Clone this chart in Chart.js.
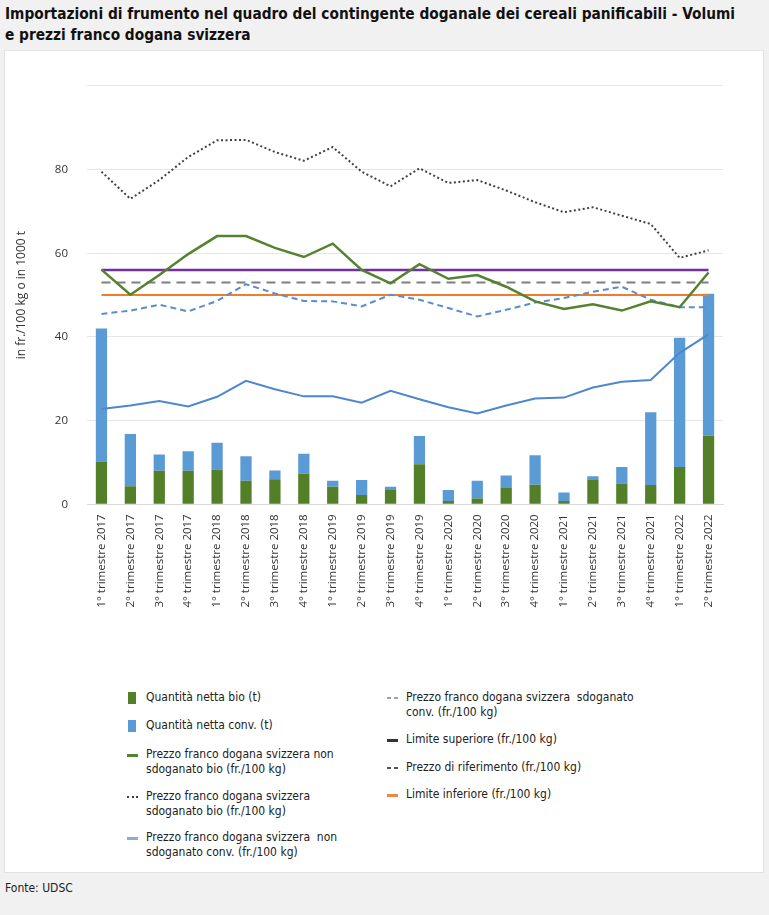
<!DOCTYPE html>
<html>
<head>
<meta charset="utf-8">
<script src="https://cdn.jsdelivr.net/npm/chart.js@4.4.1/dist/chart.umd.min.js"></script>
<style>
  body { margin: 0; background: #f1f1f1; width: 769px; height: 915px; position: relative; overflow: hidden;
         font-family: "DejaVu Sans Condensed", "Open Sans", sans-serif; }
  #title { position: absolute; left: 5px; top: 4px; width: 764px; font-size: 15.3px; font-weight: bold;
           line-height: 21px; color: #111; }
  #panel { position: absolute; left: 4px; top: 50px; width: 758px; height: 821px; background: #fff;
           border: 1px solid #e2e2e2; }
  #chartBox { position: absolute; left: 0; top: 60px; width: 769px; height: 580px; }
  .leg { position: absolute; font-size: 12px; line-height: 15px; color: #222; }
  .mk { position: absolute; }
  #source { position: absolute; left: 5px; top: 881px; font-size: 12px; color: #222; }
</style>
</head>
<body>
<div id="title">Importazioni di frumento nel quadro del contingente doganale dei cereali panificabili - Volumi<br>e prezzi franco dogana svizzera</div>
<div id="panel"></div>
<div id="chartBox"><canvas id="chart"></canvas></div>
<div id="legend"></div>
<div id="source">Fonte: UDSC</div>
<script>
const labels = [
  "1° trimestre 2017", "2° trimestre 2017", "3° trimestre 2017", "4° trimestre 2017",
  "1° trimestre 2018", "2° trimestre 2018", "3° trimestre 2018", "4° trimestre 2018",
  "1° trimestre 2019", "2° trimestre 2019", "3° trimestre 2019", "4° trimestre 2019",
  "1° trimestre 2020", "2° trimestre 2020", "3° trimestre 2020", "4° trimestre 2020",
  "1° trimestre 2021", "2° trimestre 2021", "3° trimestre 2021", "4° trimestre 2021",
  "1° trimestre 2022", "2° trimestre 2022"
];

// quantities (1000 t)
const qtyBio = [10.2, 4.3, 8.0, 8.0, 8.3, 5.6, 6.0, 7.3, 4.2, 2.2, 3.4, 9.6,
                0.8, 1.4, 3.9, 4.7, 0.8, 5.8, 5.0, 4.6, 8.9, 16.4];
const qtyConv = [31.8, 12.5, 3.9, 4.7, 6.4, 5.9, 2.1, 4.8, 1.4, 3.6, 0.8, 6.7,
                 2.6, 4.2, 3.0, 7.0, 2.0, 0.9, 3.9, 17.4, 30.9, 33.9];

// prices (fr./100 kg)
const priceBioNonSdog = [56.1, 50.1, 54.8, 59.8, 64.1, 64.1, 61.3, 59.1, 62.3, 56.0, 52.8, 57.4,
                         53.9, 54.8, 52.0, 48.5, 46.7, 47.8, 46.3, 48.5, 47.1, 55.4];
const priceBioSdog = [79.5, 73.0, 77.5, 83.0, 87.0, 87.1, 84.2, 82.1, 85.4, 79.5, 76.0, 80.3,
                      76.8, 77.5, 75.0, 72.2, 69.8, 71.0, 69.0, 67.0, 58.9, 60.7];
const priceConvNonSdog = [22.8, 23.6, 24.7, 23.4, 25.7, 29.5, 27.5, 25.8, 25.8, 24.3, 27.1, 25.1,
                          23.2, 21.7, 23.6, 25.3, 25.5, 27.9, 29.3, 29.7, 36.2, 40.6];
const priceConvSdog = [45.5, 46.3, 47.7, 46.1, 48.6, 52.6, 50.4, 48.6, 48.5, 47.3, 50.1, 48.9,
                       46.9, 44.9, 46.5, 48.2, 49.3, 50.8, 52.0, 48.9, 47.1, 47.1];
const limitUpper = [56, 56, 56, 56, 56, 56, 56, 56, 56, 56, 56, 56, 56, 56, 56, 56, 56, 56, 56, 56, 56, 56];
const refPrice = [53, 53, 53, 53, 53, 53, 53, 53, 53, 53, 53, 53, 53, 53, 53, 53, 53, 53, 53, 53, 53, 53];
const limitLower = [50, 50, 50, 50, 50, 50, 50, 50, 50, 50, 50, 50, 50, 50, 50, 50, 50, 50, 50, 50, 50, 50];

const yTicks = [0, 20, 40, 60, 80];

const tickFont = { family: "Open Sans", size: 11.5 };

function line(label, data, color, width, dash, stack) {
  return {
    type: "line", label, data, borderColor: color, backgroundColor: color,
    borderWidth: width, borderDash: dash, pointRadius: 0, tension: 0,
    fill: false, stack, order: 0
  };
}

new Chart(document.getElementById("chart"), {
  data: {
    labels,
    datasets: [
      { type: "bar", label: "Quantità netta bio (t)", data: qtyBio, backgroundColor: "#527f28",
        stack: "q", order: 1, barPercentage: 0.39, categoryPercentage: 1 },
      { type: "bar", label: "Quantità netta conv. (t)", data: qtyConv, backgroundColor: "#5b9bd5",
        stack: "q", order: 1, barPercentage: 0.39, categoryPercentage: 1 },
      line("Prezzo franco dogana svizzera non sdoganato bio (fr./100 kg)", priceBioNonSdog, "#548230", 2.5, [], "l1"),
      line("Prezzo franco dogana svizzera sdoganato bio (fr./100 kg)", priceBioSdog, "#404040", 2, [2, 2.5], "l2"),
      line("Prezzo franco dogana svizzera non sdoganato conv. (fr./100 kg)", priceConvNonSdog, "#4f87cf", 2, [], "l3"),
      line("Prezzo franco dogana svizzera sdoganato conv. (fr./100 kg)", priceConvSdog, "#5a8ccf", 2, [6, 4], "l4"),
      line("Limite superiore (fr./100 kg)", limitUpper, "#7030a0", 2.5, [], "l5"),
      line("Prezzo di riferimento (fr./100 kg)", refPrice, "#7f7f7f", 2, [9, 6], "l6"),
      line("Limite inferiore (fr./100 kg)", limitLower, "#f07d2c", 2, [], "l7")
    ]
  },
  options: {
    responsive: true,
    maintainAspectRatio: false,
    animation: false,
    layout: { padding: { top: 23, right: 46, left: 0, bottom: 0 } },
    plugins: { legend: { display: false }, tooltip: { enabled: false } },
    scales: {
      x: {
        stacked: true,
        grid: { display: false, drawTicks: false },
        border: { color: "#d9d9d9" },
        ticks: { font: tickFont, color: "#333", maxRotation: 90, minRotation: 90, padding: 10, autoSkip: false },
        afterFit(scale) { scale.height = 135.7; }
      },
      y: {
        stacked: true,
        min: 0, max: 100,
        afterBuildTicks(scale) { scale.ticks = [0, 20, 40, 60, 80, 100].map(v => ({ value: v })); },
        grid: { color: "#e6e6e6", drawTicks: false },
        border: { display: false },
        ticks: {
          font: tickFont, color: "#333", padding: 19,
          callback: (v) => (yTicks.includes(v) ? v : "")
        },
        title: { display: true, text: "in fr./100 kg o in 1000 t", font: { family: "Open Sans", size: 12 },
                 color: "#333", padding: { top: 14, bottom: 0 } },
        afterFit(scale) { scale.width = 87; }
      }
    }
  }
});

// --- HTML legend in two columns ---
const legendItems = [
  { x: 128, y: 698, kind: "box", color: "#527f28", text: "Quantità netta bio (t)" },
  { x: 128, y: 726, kind: "box", color: "#5b9bd5", text: "Quantità netta conv. (t)" },
  { x: 128, y: 755, kind: "line", color: "#548230", text: "Prezzo franco dogana svizzera non<br>sdoganato bio (fr./100 kg)" },
  { x: 128, y: 797, kind: "dot", color: "#404040", text: "Prezzo franco dogana svizzera<br>sdoganato bio (fr./100 kg)" },
  { x: 128, y: 838, kind: "line", color: "#8fa9d6", text: "Prezzo franco dogana svizzera&nbsp; non<br>sdoganato conv. (fr./100 kg)" },
  { x: 388, y: 698, kind: "dash", color: "#a0a0a0", text: "Prezzo franco dogana svizzera&nbsp; sdoganato<br>conv. (fr./100 kg)" },
  { x: 388, y: 740, kind: "line", color: "#333", text: "Limite superiore (fr./100 kg)" },
  { x: 388, y: 768, kind: "dash", color: "#555", text: "Prezzo di riferimento (fr./100 kg)" },
  { x: 388, y: 795, kind: "line", color: "#e8894a", text: "Limite inferiore (fr./100 kg)" }
];
const legendEl = document.getElementById("legend");
legendItems.forEach((it) => {
  const mk = document.createElement("div");
  mk.className = "mk";
  if (it.kind === "box") {
    mk.style.cssText = `left:${it.x}px;top:${it.y - 6}px;width:8px;height:12px;background:${it.color}`;
  } else if (it.kind === "line") {
    mk.style.cssText = `left:${it.x - 1}px;top:${it.y - 1}px;width:11px;height:2.5px;background:${it.color}`;
  } else if (it.kind === "dot") {
    mk.style.cssText = `left:${it.x - 1}px;top:${it.y - 1}px;width:11px;height:0;border-top:2px dotted ${it.color}`;
  } else {
    mk.style.cssText = `left:${it.x - 1}px;top:${it.y - 1}px;width:11px;height:2px;` +
      `background:linear-gradient(to right, ${it.color} 0 4px, transparent 4px 7px, ${it.color} 7px 11px)`;
  }
  legendEl.appendChild(mk);
  const t = document.createElement("div");
  t.className = "leg";
  t.style.left = (it.x + 18) + "px";
  t.style.top = (it.y - 8) + "px";
  t.innerHTML = it.text;
  legendEl.appendChild(t);
});
</script>
</body>
</html>
